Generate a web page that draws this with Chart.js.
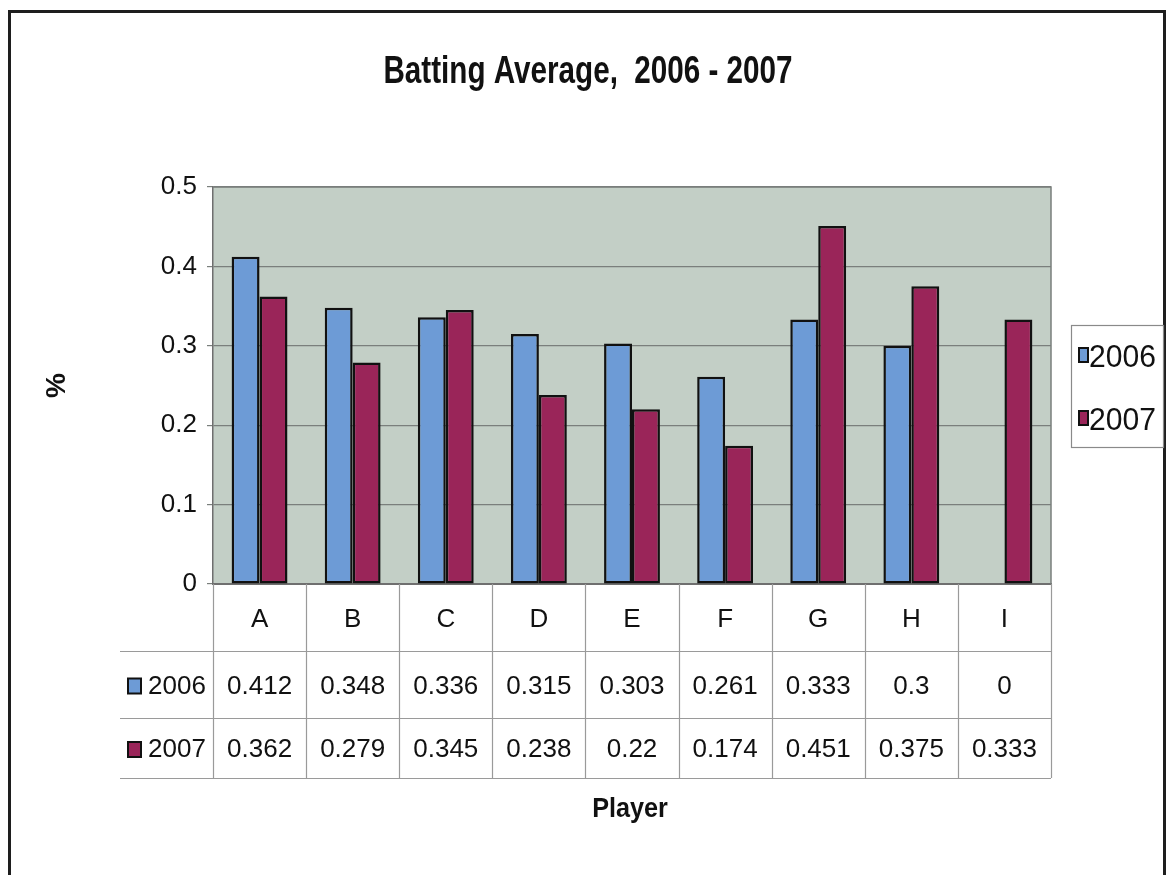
<!DOCTYPE html>
<html>
<head>
<meta charset="utf-8">
<title>Batting Average, 2006 - 2007</title>
<script src="https://cdn.jsdelivr.net/npm/chart.js@4.4.1/dist/chart.umd.min.js"></script>
<style>
  html, body { margin: 0; padding: 0; background: #fff; }
  #wrap { position: relative; width: 1168px; height: 875px; }
</style>
</head>
<body>
<div id="wrap"><canvas id="chart"></canvas></div>
<script>
/* batting average bar chart with an Excel-style data table underneath */

const PLAYERS = ['A', 'B', 'C', 'D', 'E', 'F', 'G', 'H', 'I'];
const AVG_2006 = [0.412, 0.348, 0.336, 0.315, 0.303, 0.261, 0.333, 0.3, 0];
const AVG_2007 = [0.362, 0.279, 0.345, 0.238, 0.22, 0.174, 0.451, 0.375, 0.333];
const Y_TICKS = [0, 0.1, 0.2, 0.3, 0.4, 0.5];

const TITLE = 'Batting Average,  2006 - 2007';
const X_TITLE = 'Player';
const Y_TITLE = '%';

const SERIES = [
  { label: '2006', data: AVG_2006, color: '#6d9bd6' },
  { label: '2007', data: AVG_2007, color: '#9a2559' },
];

const FONT = "'Liberation Sans', Arial, sans-serif";
const PLOT_BG = '#c3cfc6';
const GRID = '#7a7f7c';
const TABLE_LINE = '#9a9a9a';

// text squeezed sideways, the scan uses a condensed face we don't have
function narrowText(ctx, text, x, y, font, squeeze) {
  ctx.save();
  ctx.font = font;
  ctx.fillStyle = '#111';
  ctx.textAlign = 'center';
  ctx.textBaseline = 'alphabetic';
  ctx.translate(x, y);
  ctx.scale(squeeze, 1);
  ctx.fillText(text, 0, 0);
  ctx.restore();
}

// frame, plot background, titles
const backdrop = {
  id: 'backdrop',
  beforeDraw(chart) {
    const { ctx, chartArea: a } = chart;
    ctx.save();
    ctx.fillStyle = PLOT_BG;
    ctx.fillRect(a.left, a.top, a.right - a.left, a.bottom - a.top);
    ctx.strokeStyle = '#1e1e1e';
    ctx.lineWidth = 3;
    ctx.strokeRect(9.5, 11.5, 1155, 900);
    ctx.restore();
    narrowText(ctx, TITLE, 588, 83, 'bold 38px ' + FONT, 0.78);
    narrowText(ctx, X_TITLE, 630, 817, 'bold 28px ' + FONT, 0.9);
  },
  afterDatasetsDraw(chart) {
    const { ctx, chartArea: a } = chart;
    ctx.save();
    ctx.strokeStyle = GRID;
    ctx.lineWidth = 1.5;
    ctx.beginPath();
    ctx.moveTo(a.left, a.top);
    ctx.lineTo(a.right, a.top);
    ctx.lineTo(a.right, a.bottom);
    ctx.stroke();
    ctx.restore();
  }
};

// data table below the plot, columns follow the x scale
const dataTable = {
  id: 'dataTable',
  afterDraw(chart) {
    const { ctx, chartArea: a } = chart;
    const x = chart.scales.x;
    const colW = (a.right - a.left) / PLAYERS.length;
    const rows = [a.bottom, a.bottom + 67, a.bottom + 134, a.bottom + 194];
    const leftEdge = 120;

    ctx.save();
    ctx.strokeStyle = TABLE_LINE;
    ctx.lineWidth = 1.2;
    ctx.beginPath();
    for (let r = 1; r < rows.length; r++) {
      ctx.moveTo(leftEdge, rows[r] + 0.5);
      ctx.lineTo(a.right, rows[r] + 0.5);
    }
    for (let i = 0; i <= PLAYERS.length; i++) {
      const cx = Math.round(x.getPixelForValue(i) - colW / 2) + 0.5;
      ctx.moveTo(cx, rows[0]);
      ctx.lineTo(cx, rows[3]);
    }
    ctx.stroke();

    ctx.fillStyle = '#111';
    ctx.textAlign = 'center';
    ctx.textBaseline = 'middle';
    ctx.font = '26px ' + FONT;
    PLAYERS.forEach((p, i) => {
      ctx.fillText(p, x.getPixelForValue(i), (rows[0] + rows[1]) / 2 + 2);
    });

    SERIES.forEach((s, r) => {
      const cy = (rows[r + 1] + rows[r + 2]) / 2 + 2;
      s.data.forEach((v, i) => {
        ctx.fillText(String(v), x.getPixelForValue(i), cy);
      });
      // legend key + series name
      ctx.fillStyle = s.color;
      ctx.fillRect(128, cy - 8, 13, 15);
      ctx.strokeStyle = '#111';
      ctx.lineWidth = 2;
      ctx.strokeRect(128, cy - 8, 13, 15);
      ctx.fillStyle = '#111';
      ctx.textAlign = 'left';
      ctx.fillText(s.label, 148, cy);
      ctx.textAlign = 'center';
    });
    ctx.restore();
  }
};

// boxed legend at the right of the plot
const sideLegend = {
  id: 'sideLegend',
  afterDraw(chart) {
    const { ctx } = chart;
    const box = { x: 1071, y: 325, w: 92, h: 122 };
    ctx.save();
    ctx.strokeStyle = '#8a8a8a';
    ctx.lineWidth = 1.2;
    ctx.strokeRect(box.x + 0.5, box.y + 0.5, box.w, box.h);
    ctx.font = '32px ' + FONT;
    ctx.textBaseline = 'alphabetic';
    chart.data.datasets.forEach((ds, i) => {
      const cy = box.y + 30 + i * 63;
      ctx.fillStyle = ds.backgroundColor;
      ctx.fillRect(box.x + 8, cy - 7, 9, 14);
      ctx.strokeStyle = '#111';
      ctx.lineWidth = 2;
      ctx.strokeRect(box.x + 8, cy - 7, 9, 14);
      ctx.fillStyle = '#111';
      ctx.save();
      ctx.translate(box.x + 18, cy + 12);
      ctx.scale(0.94, 1);
      ctx.fillText(ds.label, 0, 0);
      ctx.restore();
    });
    ctx.restore();
  }
};

new Chart(document.getElementById('chart'), {
  type: 'bar',
  data: {
    labels: PLAYERS,
    datasets: SERIES.map(s => ({
      label: s.label,
      data: s.data,
      backgroundColor: s.color,
      borderColor: '#111',
      borderWidth: 2.5,
      borderSkipped: false,
      categoryPercentage: 0.6,
      barPercentage: 1.0
    }))
  },
  options: {
    responsive: true,
    maintainAspectRatio: false,
    animation: false,
    layout: { padding: { left: 36, right: 117, top: 187, bottom: 291 } },
    scales: {
      x: {
        grid: { display: false, drawTicks: false },
        border: { display: true, color: '#6f6f6f', width: 2 },
        ticks: { display: false }
      },
      y: {
        min: 0, max: 0.5,
        afterFit(scale) { scale.width = 213 - 36; },
        afterBuildTicks(scale) { scale.ticks = Y_TICKS.map(v => ({ value: v })); },
        grid: { color: GRID, lineWidth: 1.2, tickLength: 6 },
        border: { display: true, color: '#6f6f6f', width: 1.5 },
        ticks: {
          color: '#111', padding: 10,
          font: { family: FONT, size: 26 },
          callback: v => String(+v.toFixed(1))
        },
        title: {
          display: true, text: Y_TITLE, color: '#111',
          font: { family: FONT, size: 28, weight: 'bold' },
          padding: { top: 4, bottom: 0 }
        }
      }
    },
    plugins: {
      legend: { display: false },
      tooltip: { enabled: false },
      title: { display: false }
    }
  },
  plugins: [backdrop, dataTable, sideLegend]
});
</script>
</body>
</html>
